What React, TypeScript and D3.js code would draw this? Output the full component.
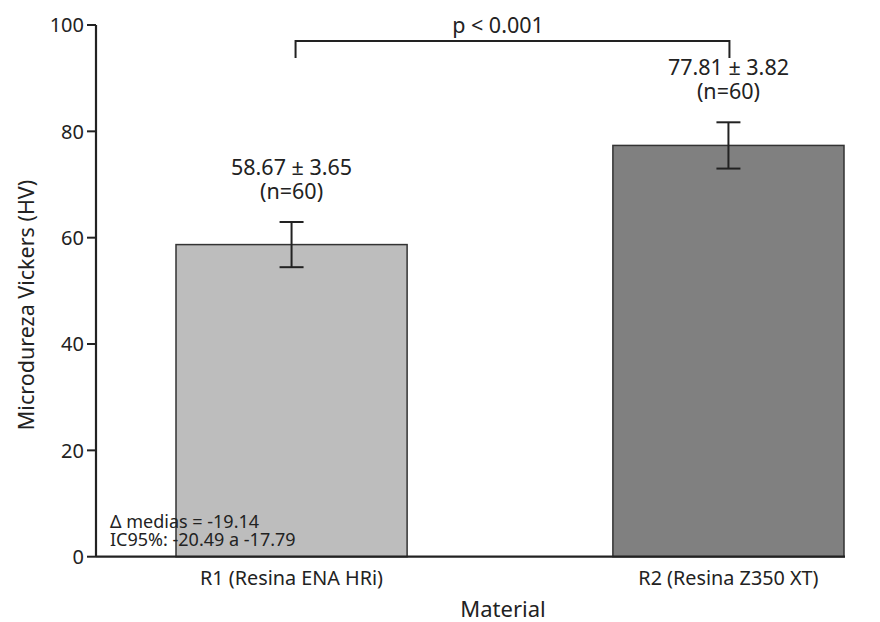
import React from "react";
import * as d3 from "d3";

const categories = ["R1 (Resina ENA HRi)", "R2 (Resina Z350 XT)"];
const means = [58.7, 77.35];
const errors = [4.25, 4.35];
const meanLabels = ["58.67 ± 3.65", "77.81 ± 3.82"];
const nLabels = ["(n=60)", "(n=60)"];
const barColors = ["#bdbdbd", "#808080"];
const yTicks = [0, 20, 40, 60, 80, 100];
const pLabel = "p < 0.001";
const noteLines = ["Δ medias = -19.14", "IC95%: -20.49 a -17.79"];

const W = 880;
const H = 622;
const FONT = "'Noto Sans', 'DejaVu Sans', sans-serif";
const INK = "#222";

export default function App() {
  const y = d3.scaleLinear().domain([0, 100]).range([556.7, 25]);
  const x = d3.scaleBand<string>().domain(categories).range([176, 844]).paddingInner(0.471).paddingOuter(0);
  const bw = x.bandwidth();
  const axisX = 96;
  const c0 = (x(categories[0]) as number) + bw / 2;
  const c1 = (x(categories[1]) as number) + bw / 2;
  const bracketY = 41;
  const bracketDrop = 17;

  return (
    <svg width={W} height={H} style={{ position: "absolute", left: 0, top: 0, background: "#fff" }} fontFamily={FONT}>
      <rect x={0} y={0} width={W} height={H} fill="#fff" />
      {categories.map((c, i) => {
        const bx = x(c) as number;
        const cx = bx + bw / 2;
        return (
          <g key={c}>
            <rect x={bx} y={y(means[i])} width={bw} height={y(0) - y(means[i])} fill={barColors[i]} stroke="#333" strokeWidth={1.5} />
            <line x1={cx} x2={cx} y1={y(means[i] - errors[i])} y2={y(means[i] + errors[i])} stroke={INK} strokeWidth={2} />
            <line x1={cx - 12} x2={cx + 12} y1={y(means[i] + errors[i])} y2={y(means[i] + errors[i])} stroke={INK} strokeWidth={2} />
            <line x1={cx - 12} x2={cx + 12} y1={y(means[i] - errors[i])} y2={y(means[i] - errors[i])} stroke={INK} strokeWidth={2} />
            <text x={cx} y={y(means[i] + errors[i]) - 47} textAnchor="middle" fontSize={21.5} fill={INK}>
              <tspan x={cx}>{meanLabels[i]}</tspan>
              <tspan x={cx} dy={24}>{nLabels[i]}</tspan>
            </text>
            <text x={cx} y={585} textAnchor="middle" fontSize={19.8} fill={INK}>{c}</text>
          </g>
        );
      })}
      {/* axes */}
      <line x1={axisX} x2={axisX} y1={y(100)} y2={y(0)} stroke={INK} strokeWidth={2.2} />
      <line x1={axisX} x2={845} y1={y(0)} y2={y(0)} stroke={INK} strokeWidth={2.2} />
      {yTicks.map((t) => (
        <g key={t}>
          <line x1={axisX - 9} x2={axisX} y1={y(t)} y2={y(t)} stroke={INK} strokeWidth={2} />
          <text x={axisX - 12} y={y(t)} dy="0.36em" textAnchor="end" fontSize={20} fill={INK}>{t}</text>
        </g>
      ))}
      <text transform={`translate(34,${305}) rotate(-90)`} textAnchor="middle" fontSize={21.5} fill={INK}>Microdureza Vickers (HV)</text>
      <text x={503} y={617} textAnchor="middle" fontSize={22} fill={INK}>Material</text>
      {/* bracket */}
      <path d={`M${c0 + 4},${bracketY + bracketDrop}V${bracketY}H${c1 + 1}V${bracketY + bracketDrop}`} fill="none" stroke={INK} strokeWidth={2} />
      <text x={(c0 + c1) / 2 - 12} y={33} textAnchor="middle" fontSize={21.5} fill={INK}>{pLabel}</text>
      {/* note */}
      <text x={110} y={528} fontSize={18} fill={INK}>
        {noteLines.map((l, i) => (
          <tspan key={l} x={110} dy={i === 0 ? 0 : 18}>{l}</tspan>
        ))}
      </text>
    </svg>
  );
}
